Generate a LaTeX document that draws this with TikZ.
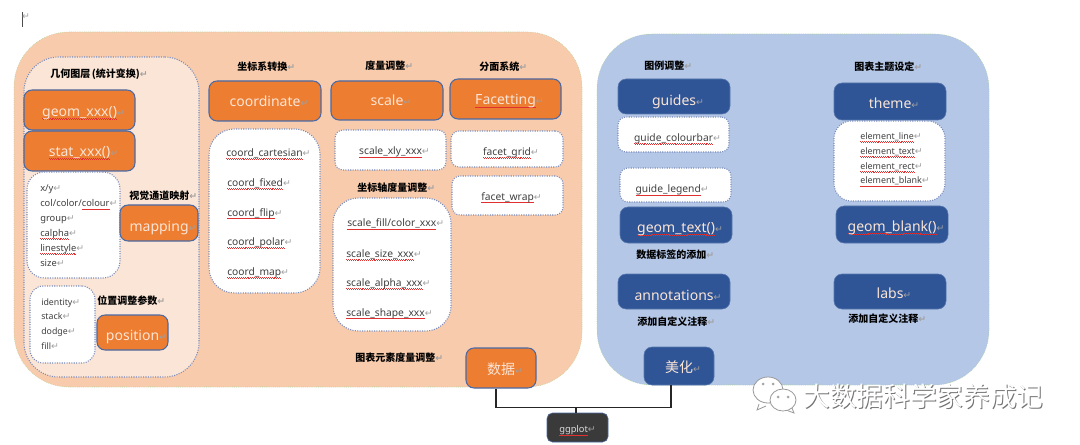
\documentclass[tikz,border=0pt]{standalone}
\usepackage{fontspec}
\setmainfont{Noto Sans}
\newfontfamily\cjk{Noto Sans CJK SC}
\newfontfamily\retfont{DejaVu Sans}

\definecolor{peach}{HTML}{F8CBAD}
\definecolor{paleorange}{HTML}{FBE5D6}
\definecolor{myorange}{HTML}{ED7D31}
\definecolor{skyblue}{HTML}{B4C7E7}
\definecolor{myblue}{HTML}{2F5597}
\definecolor{edgeblue}{HTML}{4A6AA5}
\definecolor{dotblue}{HTML}{7A8CBA}
\definecolor{leaf}{HTML}{A9D18E}
\definecolor{darkbox}{HTML}{3A3A3A}
\definecolor{spellred}{HTML}{E03030}
\definecolor{retgray}{HTML}{A0A0A0}

\newcommand{\ret}{{\retfont\textcolor{retgray}{\scriptsize ↵}}}
\newcommand{\spell}[1]{\leavevmode\setbox0\hbox{#1}\rlap{\smash{\textcolor{spellred}{\hbox to\wd0{\xleaders\hbox{\vrule width .7pt height -1.3pt depth 1.7pt\vrule width .7pt height -1.7pt depth 2.1pt}\hfill}}}}\box0 }

\begin{document}
\begin{tikzpicture}[
		x=0.75pt, y=-0.75pt,
		wh/.style 2 args={minimum width=#1*0.75pt, minimum height=#2*0.75pt, inner sep=0pt},
		panel/.style={draw=leaf, densely dotted, rounded corners=41pt},
		orangebox/.style={draw=edgeblue, fill=myorange, line width=0.8pt, rounded corners=6pt, text=paleorange, font=\fontsize{10.5}{12}\selectfont, text height=10pt, text depth=0pt, execute at begin node={\hspace*{6pt}}},
		bluebox/.style={draw=myblue!80, fill=myblue, rounded corners=6pt, text=paleorange, font=\fontsize{10.5}{12}\selectfont, text height=10pt, text depth=0pt, execute at begin node={\hspace*{6pt}}},
		listbox/.style={draw=dotblue, densely dotted, fill=white, line width=0.8pt, rounded corners=#1},
		listbox/.default=6pt,
		listtext/.style={text=black!75, font=\fontsize{7.7}{9}\selectfont, text depth=0pt, execute at begin node={\hspace*{6pt}}},
		head/.style={anchor=west, font=\cjk\bfseries\fontsize{7.5}{9}\selectfont, inner sep=0pt},
		entry/.style={anchor=base west, inner sep=0pt, text=black!75, font=\fontsize{7}{9}\selectfont},
		bigentry/.style={entry, font=\fontsize{7.7}{9}\selectfont},
		wire/.style={black!85, line width=0.8pt},
		bubble/.style={draw=black!40, fill=white, line width=0.6pt}
		]
		\useasboundingbox (0,0) rectangle (1080,445);
		
		% 光标
		\draw[black!70] (22,12) -- (22,27);
		\node[inner sep=0pt] (cursor) at (26,17) {\ret};
		
		% 两个大框
		\node[panel, fill=peach, wh={568}{355}] (left) at (298,209.5) {};
		\node[panel, fill=skyblue, wh={392}{351}] (right) at (793,209.5) {};
		
		% 几何图层
		\node[draw=dotblue, densely dotted, line width=0.8pt, fill=paleorange, rounded corners=26pt, wh={175}{320}] (layer) at (111.5,217) {};
		\node[orangebox, wh={111}{40}] (geom) at (79.5,110) {\spell{geom\_xxx()}\ret};
		\node[orangebox, wh={111}{40}, text height=8.5pt] (stat) at (79.5,151) {\spell{stat\_xxx()}\ret};
		\node[listbox=13pt, wh={93}{106}] (maplist) at (73.5,225) {};
		\node[orangebox, wh={78}{36}, text height=13pt] (mapping) at (159,223) {mapping\ret};
		\node[listbox=10pt, wh={65}{77}] (poslist) at (62.5,324.5) {};
		\node[orangebox, wh={71}{35}, text height=12pt] (position) at (132.5,332.5) {position\ret};
		
		% 坐标系
		\node[orangebox, wh={112}{40}, text height=9pt] (coordinate) at (265,101) {coordinate\ret};
		\node[listbox=19pt, wh={111}{164}] (coordlist) at (264.5,211) {};
		
		% 度量
		\node[orangebox, wh={112}{39}, text height=7.5pt] (scale) at (387,100.5) {scale\ret};
		\node[listbox, listtext, wh={111}{40}, text height=7.5pt] (xly) at (390.5,150) {\spell{scale\_xly\_xxx}\ret};
		\node[listbox=19pt, wh={118}{133}] (scalelist) at (392,264.5) {};
		
		% 分面
		\node[orangebox, wh={111}{40}, text height=9pt] (facetting) at (505.5,99) {\spell{Facetting}\ret};
		\node[listbox, listtext, wh={112}{36}, text height=10pt] (grid) at (507,149) {\spell{facet\_grid}\ret};
		\node[listbox, listtext, wh={111}{39}, text height=7pt] (wrap) at (507.5,195.5) {\spell{facet\_wrap}\ret};
		
		% 右边
		\node[bluebox, wh={112}{35}, text height=13.5pt] (guides) at (674,96.5) {guides\ret};
		\node[listbox, listtext, wh={111}{35}, text height=10.5pt] (colourbar) at (673.5,134.5) {\spell{guide\_colourbar}\ret};
		\node[listbox, listtext, wh={111}{34}, text height=12pt] (legend) at (675.5,185) {\hspace*{-11pt}\spell{guide\_legend}\ret};
		\node[bluebox, wh={112}{36}, text height=11.5pt] (geomtext) at (676,225) {\spell{geom\_text()}\ret};
		\node[bluebox, wh={112}{35}, text height=12.75pt] (annotations) at (674,291.5) {annotations\ret};
		\node[bluebox, wh={112}{37}, text height=11pt] (theme) at (890,101.5) {theme\ret};
		\node[listbox=13pt, wh={111}{80}] (elementlist) at (889.5,161) {};
		\node[bluebox, wh={112}{37}, text height=10.5pt] (blank) at (892,224.5) {\spell{geom\_blank()}\ret};
		\node[bluebox, wh={112}{35}, text height=11pt] (labs) at (890,291.5) {labs\ret};
		
		% 底部
		\node[orangebox, wh={70}{40}, font=\cjk\fontsize{10.5}{12}\selectfont] (data) at (501,368) {数据\ret};
		\node[bluebox, wh={70}{38}, font=\cjk\fontsize{10.5}{12}\selectfont] (beauty) at (679,366) {美化\ret};
		\node[draw=edgeblue, fill=darkbox, rounded corners=4pt, wh={61}{29}, text=white!85!black, font=\fontsize{7}{9}\selectfont, text height=8pt, text depth=0pt] (ggplot) at (577.5,427.5) {\spell{ggplot}\ret};
		
		% 连线
		\coordinate (bus) at (576,407.5);
		\draw[wire] ([xshift=-3.75pt]data.south) |- (bus);
		\draw[wire] ([xshift=-6pt]beauty.south) |- (bus);
		\draw[wire] (ggplot.north -| bus) -- (bus);
		
		% 标题
		\node[head] (t1) at (50,74) {几何图层\,(统计变换)\ret};
		\node[head] (t2) at (129,196) {视觉通道映射\ret};
		\node[head] (t3) at (97,301) {位置调整参数\ret};
		\node[head] (t4) at (237,67) {坐标系转换\ret};
		\node[head] (t5) at (365,66) {度量调整\ret};
		\node[head] (t6) at (479,67) {分面系统\ret};
		\node[head] (t7) at (357,188) {坐标轴度量调整\ret};
		\node[head] (t8) at (355,358) {图表元素度量调整\ret};
		\node[head] (t9) at (644,66) {图例调整\ret};
		\node[head] (t10) at (854,67) {图表主题设定\ret};
		\node[head] (t11) at (636,255) {数据标签的添加\ret};
		\node[head] (t12) at (637,322) {添加自定义注释\ret};
		\node[head] (t13) at (848,319) {添加自定义注释\ret};
		
		% 列表文字
		\node[entry] (m1) at (40,192) {x/y\ret};
		\node[entry] (m2) at (40,207) {col/color/\spell{colour}\ret};
		\node[entry] (m3) at (40,222) {group\ret};
		\node[entry] (m4) at (40,236.7) {\spell{calpha}\ret};
		\node[entry] (m5) at (40,251.7) {\spell{linestyle}\ret};
		\node[entry] (m6) at (40,266.3) {size\ret};
		
		\node[entry, font=\fontsize{6.6}{9}\selectfont] (p1) at (41,305) {identity\ret};
		\node[entry, font=\fontsize{6.6}{9}\selectfont] (p2) at (41,319.7) {stack\ret};
		\node[entry, font=\fontsize{6.6}{9}\selectfont] (p3) at (41,334.3) {dodge\ret};
		\node[entry, font=\fontsize{6.6}{9}\selectfont] (p4) at (41,349) {fill\ret};
		
		\node[bigentry] (c1) at (226,156.7) {\spell{coord\_cartesian}\ret};
		\node[bigentry] (c2) at (227,186.7) {\spell{coord\_fixed}\ret};
		\node[bigentry] (c3) at (227,216) {\spell{coord\_flip}\ret};
		\node[bigentry] (c4) at (227,245.7) {\spell{coord\_polar}\ret};
		\node[bigentry] (c5) at (227,275.7) {\spell{coord\_map}\ret};
		
		\node[bigentry] (s1) at (347,227) {\spell{scale\_fill/color\_xxx}\ret};
		\node[bigentry] (s2) at (346,257.3) {\spell{scale\_size\_xxx}\ret};
		\node[bigentry] (s3) at (346,286.7) {\spell{scale\_alpha\_xxx}\ret};
		\node[bigentry] (s4) at (346,316) {\spell{scale\_shape\_xxx}\ret};
		
		\node[entry, font=\fontsize{6.7}{9}\selectfont] (e1) at (860,139.3) {\spell{element\_line}\ret};
		\node[entry, font=\fontsize{6.7}{9}\selectfont] (e2) at (860,154.3) {\spell{element\_text}\ret};
		\node[entry, font=\fontsize{6.7}{9}\selectfont] (e3) at (860,169.3) {\spell{element\_rect}\ret};
		\node[entry, font=\fontsize{6.7}{9}\selectfont] (e4) at (860,184) {\spell{element\_blank}\ret};
		
		% 水印
		\draw[bubble] (759,404) -- (757,410) -- (766,406);
		\draw[bubble] (768,390) ellipse [x radius=15, y radius=13];
		\draw[bubble] (792,408) -- (794,413) -- (786,410);
		\draw[bubble] (783,400) ellipse [x radius=13, y radius=11];
		\fill[black!35] (763,384) circle [radius=1.5];
		\fill[black!35] (773,384) circle [radius=1.5];
		\fill[black!35] (778,397) circle [radius=1.5];
		\fill[black!35] (788,397) circle [radius=1.5];
		\node[inner sep=0pt, text=black!55, font=\cjk\fontsize{20}{24}\selectfont] (shadow) at (924.5,397.5) {大数据科学家养成记};
		\node[inner sep=0pt, text=white, font=\cjk\fontsize{20}{24}\selectfont] (wm) at (923.5,396.5) {大数据科学家养成记};
		
	\end{tikzpicture}
\end{document}
